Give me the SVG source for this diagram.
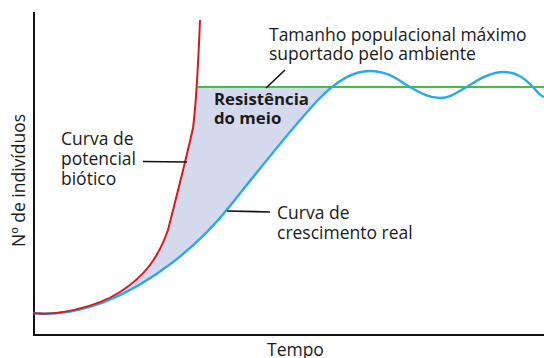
<svg xmlns="http://www.w3.org/2000/svg" width="544" height="358" viewBox="0 0 544 358">
<style>
text{font-family:"Open Sans","Liberation Sans",sans-serif;font-size:17.5px;fill:#1a1a1a}
.b{font-weight:bold;font-size:16.8px}
.axis{stroke:#111;stroke-width:2;fill:none}
.ptr{stroke:#111;stroke-width:1.6;fill:none}
.red{stroke:#d7191f;stroke-width:2;fill:none}
.blue{stroke:#2aaae2;stroke-width:2.4;fill:none}
.green{stroke:#3dc43a;stroke-width:2;fill:none}
</style>
<defs>
<clipPath id="clipTop"><rect x="0" y="87" width="544" height="260"/></clipPath>
</defs>
<rect width="544" height="358" fill="#fff"/>
<g id="resistance-area">
<path clip-path="url(#clipTop)" fill="#d4d9ee" d="M33,313 C55,316 95,308 120,292 C145,276 158,258 168,230 C176,198 186,160 193,128 C196,105 198,70 200,20 L370,20 L370,71 C352,71 335,82 318,100 C290,130 262,166 230,206 C195,250 150,283 107,301 C85,310 55,316 33,313 Z"/>
</g>
<g id="axes">
<path class="axis" d="M34,12 L34,336 M33,335 L544,335"/>
</g>
<g id="carrying-capacity">
<path class="green" d="M198,87 L544,87"/>
</g>
<g id="real-growth-curve">
<path class="blue" d="M33,313 C55,316 85,310 107,301 C150,283 195,250 230,206 C262,166 290,130 318,100 C335,82 352,71 370,71 C388,71 398,80 410,87 C422,94 430,98 440,98 C452,98 458,91 467,87 C480,78 492,72 503,72 C518,72 525,79 533,87 C537,92 540,96 544,97"/>
</g>
<g id="biotic-potential-curve">
<path class="red" d="M33,313 C55,316 95,308 120,292 C145,276 158,258 168,230 C176,198 186,160 193,128 C196,105 198,70 200,20"/>
</g>
<g id="connectors">
<path class="ptr" d="M266,88 L285,70"/>
<path class="ptr" d="M143,161.5 L187,162"/>
<path class="ptr" d="M227,211 L270,212"/>
</g>
<g id="label-max">
<text x="269" y="41">Tamanho populacional máximo</text>
<text x="269" y="60">suportado pelo ambiente</text>
</g>
<g id="label-resistance">
<text class="b" x="214" y="105">Resistência</text>
<text class="b" x="214" y="124">do meio</text>
</g>
<g id="label-biotic">
<text x="61" y="145">Curva de</text>
<text x="61" y="165">potencial</text>
<text x="61" y="185">biótico</text>
</g>
<g id="label-real">
<text x="277" y="219">Curva de</text>
<text x="277" y="239">crescimento real</text>
</g>
<g id="label-axes">
<text x="267" y="356">Tempo</text>
<text transform="translate(25,180.5) rotate(-90)" text-anchor="middle">Nº de indivíduos</text>
</g>
</svg>
